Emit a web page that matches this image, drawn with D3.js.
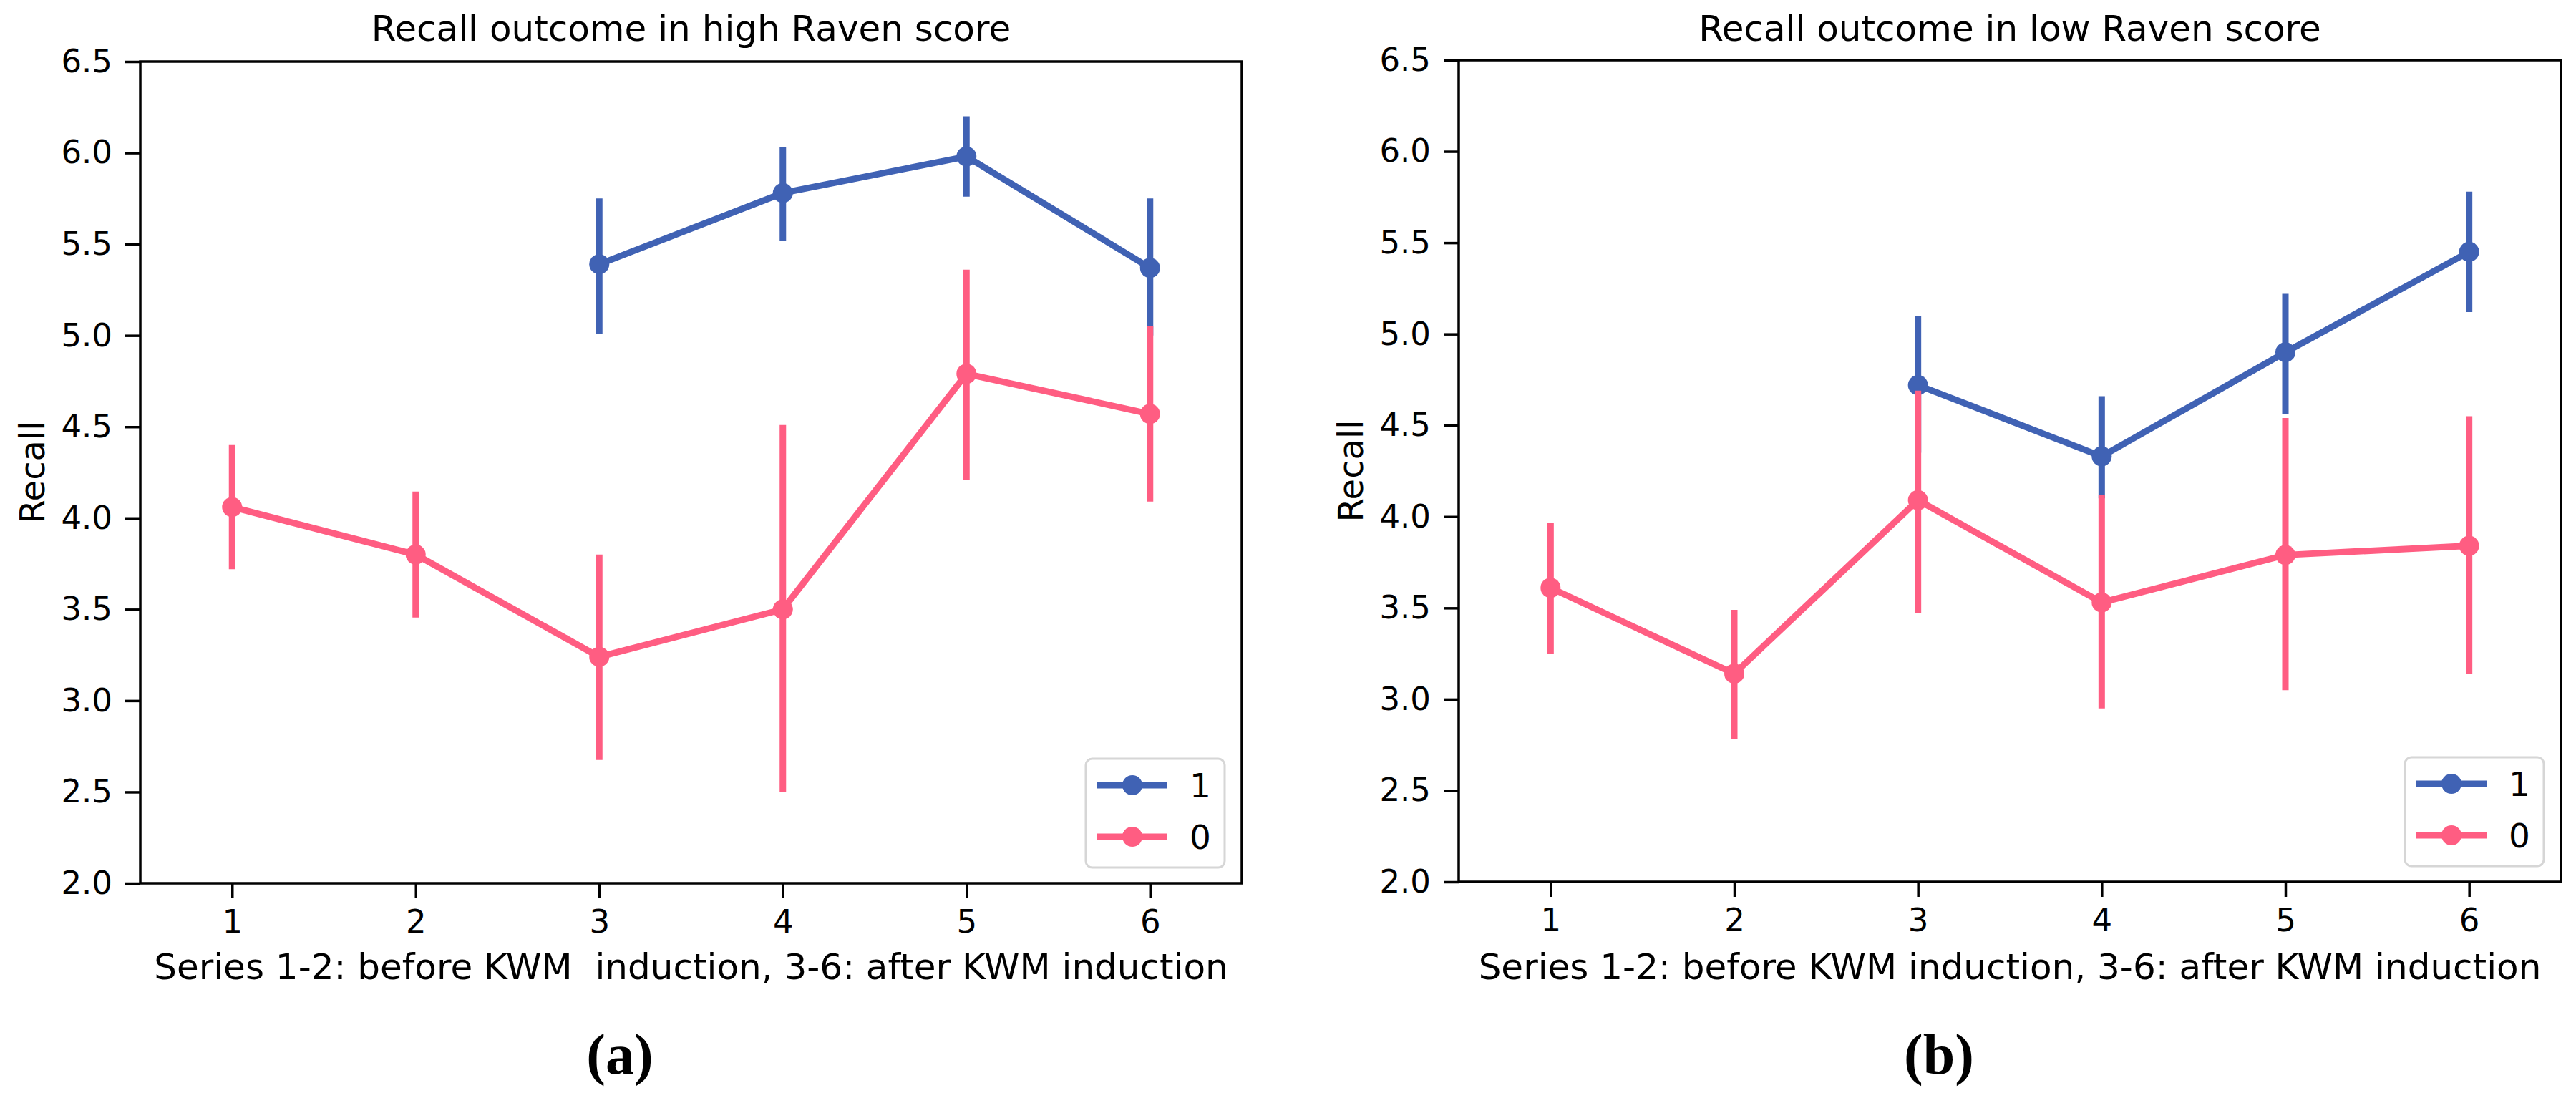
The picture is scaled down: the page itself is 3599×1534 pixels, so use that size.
<!DOCTYPE html>
<html>
<head>
<meta charset="utf-8">
<script src="https://cdn.jsdelivr.net/npm/d3@7/dist/d3.min.js"></script>
<style>
  body { margin: 0; background: #fff; }
  svg text { font-family: "DejaVu Sans", sans-serif; fill: #000; }
</style>
</head>
<body>
<svg width="3599" height="1534"></svg>
<script>
// Data
// ----
var series = ["1", "2", "3", "4", "5", "6"];
var yTicks = [2.0, 2.5, 3.0, 3.5, 4.0, 4.5, 5.0, 5.5, 6.0, 6.5];
var hueLabels = ["1", "0"];
var hueColors = ["#4062b4", "#ff5d82"];

// high Raven score
var high1 = [NaN, NaN, 5.39, 5.78, 5.98, 5.37];
var high1Lo = [NaN, NaN, 5.01, 5.52, 5.76, 5.00];
var high1Hi = [NaN, NaN, 5.75, 6.03, 6.20, 5.75];
var high0 = [4.06, 3.80, 3.24, 3.50, 4.79, 4.57];
var high0Lo = [3.72, 3.455, 2.675, 2.50, 4.21, 4.09];
var high0Hi = [4.40, 4.145, 3.80, 4.51, 5.36, 5.05];

// low Raven score
var low1 = [NaN, NaN, 4.72, 4.33, 4.90, 5.45];
var low1Lo = [NaN, NaN, 4.35, 4.10, 4.56, 5.12];
var low1Hi = [NaN, NaN, 5.10, 4.66, 5.22, 5.78];
var low0 = [3.61, 3.14, 4.09, 3.53, 3.79, 3.84];
var low0Lo = [3.25, 2.78, 3.47, 2.95, 3.05, 3.14];
var low0Hi = [3.965, 3.49, 4.69, 4.12, 4.54, 4.55];


// Panel
// -----
function drawPanel(svg, p) {
  var x = d3.scalePoint().domain(series).range([p.left, p.right]).padding(0.5);
  var y = d3.scaleLinear().domain([2, 6.5]).range([p.bottom, p.top]);
  var g = svg.append("g");

  // axes
  var ax = g.append("g")
     .attr("transform", "translate(" + p.left + ",0)")
     .call(d3.axisLeft(y).tickValues(yTicks).tickFormat(d3.format(".1f"))
       .tickSize(21).tickPadding(18));
  var bx = g.append("g")
     .attr("transform", "translate(0," + p.bottom + ")")
     .call(d3.axisBottom(x).tickSize(21).tickPadding(16));
  [ax, bx].forEach(function (a) {
    a.select(".domain").remove();
    a.selectAll("line").attr("stroke", "#000").attr("stroke-width", 3.5);
    a.selectAll("text").attr("font-size", "45px")
     .attr("font-family", '"DejaVu Sans", sans-serif').attr("fill", "#000");
  });

  // series: hue 1 first, hue 0 on top
  p.data.forEach(function (d, k) {
    var pts = series.map(function (s, i) {
      return {s: s, v: d.mean[i], lo: d.lo[i], hi: d.hi[i]};
    }).filter(function (e) { return !isNaN(e.v); });
    var col = hueColors[k];
    g.selectAll(null).data(pts).enter().append("line")
       .attr("x1", function (e) { return x(e.s); })
       .attr("x2", function (e) { return x(e.s); })
       .attr("y1", function (e) { return y(e.lo); })
       .attr("y2", function (e) { return y(e.hi); })
       .attr("stroke", col)
       .attr("stroke-width", 9);
    g.append("path")
       .datum(pts)
       .attr("d", d3.line().x(function (e) { return x(e.s); }).y(function (e) { return y(e.v); }))
       .attr("fill", "none")
       .attr("stroke", col)
       .attr("stroke-width", 9);
    g.selectAll(null).data(pts).enter().append("circle")
       .attr("cx", function (e) { return x(e.s); })
       .attr("cy", function (e) { return y(e.v); })
       .attr("r", 14)
       .attr("fill", col);
  });

  // frame
  g.append("rect")
     .attr("x", p.left).attr("y", p.top)
     .attr("width", p.right - p.left).attr("height", p.bottom - p.top)
     .attr("fill", "none").attr("stroke", "#000").attr("stroke-width", 3.5);

  // legend
  var lg = g.append("g").attr("transform", "translate(" + (p.right - 218) + "," + (p.bottom - 174) + ")");
  lg.append("rect")
     .attr("width", 194).attr("height", 152).attr("rx", 9)
     .attr("fill", "#fff").attr("fill-opacity", 0.8)
     .attr("stroke", "#d6d6d6").attr("stroke-width", 3);
  hueLabels.forEach(function (h, k) {
    var yy = 37 + k * 72;
    lg.append("line").attr("x1", 15).attr("x2", 114).attr("y1", yy).attr("y2", yy)
       .attr("stroke", hueColors[k]).attr("stroke-width", 9);
    lg.append("circle").attr("cx", 65).attr("cy", yy).attr("r", 14).attr("fill", hueColors[k]);
    lg.append("text").attr("x", 145).attr("y", yy + 17).attr("font-size", "47px").text(h);
  });

  // texts
  var cx = (p.left + p.right) / 2;
  g.append("text")
     .attr("x", cx).attr("y", 57)
     .attr("text-anchor", "middle").attr("font-size", "50px")
     .text(p.title);
  g.append("text")
     .attr("x", cx).attr("y", 1368)
     .attr("text-anchor", "middle").attr("font-size", "50px")
     .style("white-space", "pre")
     .text(p.xlabel);
  g.append("text")
     .attr("transform", "translate(" + (p.left - 134) + "," + ((p.top + p.bottom) / 2) + ") rotate(-90)")
     .attr("text-anchor", "middle").attr("font-size", "48px")
     .text("Recall");
  g.append("text")
     .attr("x", p.tagX).attr("y", 1500)
     .attr("text-anchor", "middle")
     .attr("font-size", "80px")
     .style("font-family", '"Liberation Serif", "DejaVu Serif", serif')
     .style("font-weight", "bold")
     .text(p.tag);
}

var svg = d3.select("svg");
svg.append("rect").attr("width", 3599).attr("height", 1534).attr("fill", "#fff");

drawPanel(svg, {
  left: 196, right: 1735, top: 86, bottom: 1234,
  title: "Recall outcome in high Raven score",
  xlabel: "Series 1-2: before KWM  induction, 3-6: after KWM induction",
  tag: "(a)", tagX: 866,
  data: [
    {mean: high1, lo: high1Lo, hi: high1Hi},
    {mean: high0, lo: high0Lo, hi: high0Hi}
  ]
});

drawPanel(svg, {
  left: 2038, right: 3578, top: 84, bottom: 1232,
  title: "Recall outcome in low Raven score",
  xlabel: "Series 1-2: before KWM induction, 3-6: after KWM induction",
  tag: "(b)", tagX: 2709,
  data: [
    {mean: low1, lo: low1Lo, hi: low1Hi},
    {mean: low0, lo: low0Lo, hi: low0Hi}
  ]
});
</script>
</body>
</html>
